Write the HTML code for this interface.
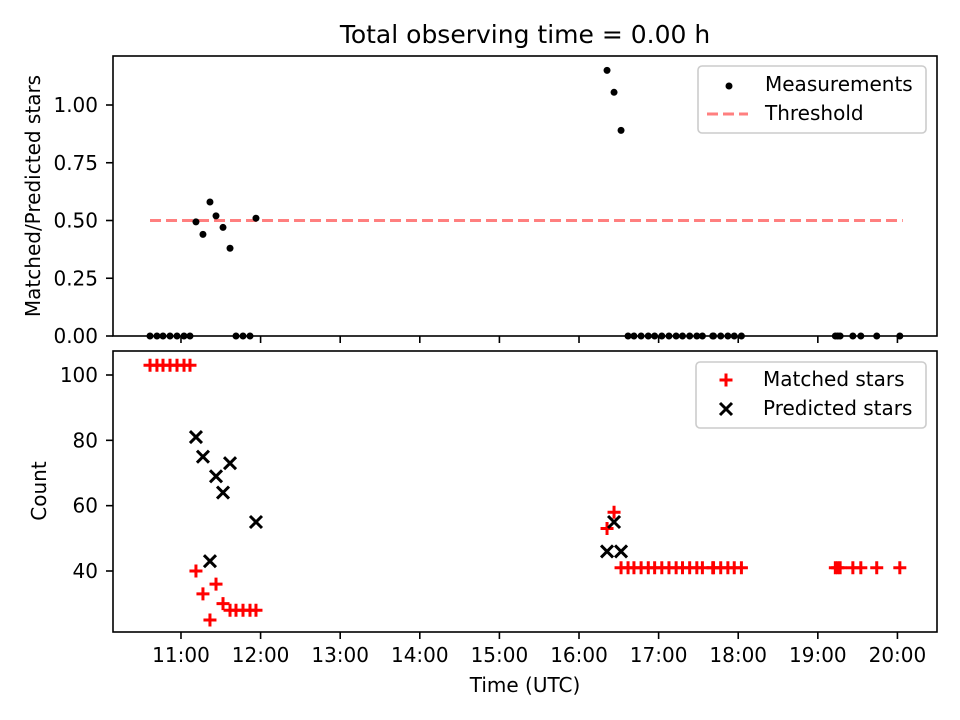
<!DOCTYPE html>
<html><head><meta charset="utf-8"><style>
body{margin:0;background:#fff;}
svg{display:block;font-family:"DejaVu Sans","Liberation Sans",sans-serif;}
</style></head><body>
<svg id="c" width="960" height="720" viewBox="0 0 960 720"></svg>
<script>
const times=[10.611,10.698,10.774,10.862,10.950,11.038,11.113,11.188,11.276,11.364,11.440,11.528,11.616,11.691,11.779,11.867,11.942,16.352,16.440,16.528,16.616,16.69,16.78,16.87,16.95,17.04,17.13,17.22,17.30,17.39,17.48,17.55,17.68,17.69,17.78,17.87,17.95,18.04,19.22,19.25,19.28,19.44,19.54,19.74,20.03];
const matched=[103,103,103,103,103,103,103,40,33,25,36,30,28,28,28,28,28,53,58,41,41,41,41,41,41,41,41,41,41,41,41,41,41,41,41,41,41,41,41,41,41,41,41,41,41];
const predicted=[null,null,null,null,null,null,null,81,75,43,69,64,73,null,null,null,55,46,55,46,null,null,null,null,null,null,null,null,null,null,null,null,null,null,null,null,null,null,null,null,null,null,null,null,null];
const ratio=[0,0,0,0,0,0,0,0.494,0.44,0.58,0.52,0.47,0.38,0,0,0,0.51,1.15,1.055,0.89,0,0,0,0,0,0,0,0,0,0,0,0,0,0,0,0,0,0,0,0,0,0,0,0,0];
const threshold=0.5;
const xTicks=[11,12,13,14,15,16,17,18,19,20];
const topTicks=[0,0.25,0.5,0.75,1.0];
const botTicks=[40,60,80,100];

const NS="http://www.w3.org/2000/svg";
const svg=document.getElementById('c');
function el(t,a,p){const e=document.createElementNS(NS,t);for(const k in a)e.setAttribute(k,a[k]);(p||svg).appendChild(e);return e;}
const X0=113,X1=937;
const xs=h=>X0+(h-10.146)/(20.497-10.146)*(X1-X0);
const yTop=v=>336-v*231;
const yBot=v=>571-(v-40)*3.2667;
const FS='20px';

let t=el('text',{x:525,y:43,'text-anchor':'middle','font-size':'25px'});t.textContent='Total observing time = 0.00 h';



function axes(y0,y1,name){
  const r=el('rect',{x:X0,y:y0,width:X1-X0,height:y1-y0,fill:'none',stroke:'#000','stroke-width':1.6});
  
  
  xTicks.forEach(h=>{el('line',{x1:xs(h),x2:xs(h),y1:y1,y2:y1+7,stroke:'#000','stroke-width':1.6});});
}
axes(56,336,'top-axes');
axes(351,632,'bottom-axes');
xTicks.forEach(h=>{const s=el('text',{x:xs(h),y:662,'text-anchor':'middle','font-size':FS});s.textContent=h+':00';

});
topTicks.forEach(v=>{el('line',{x1:X0-7,x2:X0,y1:yTop(v),y2:yTop(v),stroke:'#000','stroke-width':1.6});
const s=el('text',{x:X0-15,y:yTop(v)+7,'text-anchor':'end','font-size':FS});s.textContent=v.toFixed(2);

});
botTicks.forEach(v=>{el('line',{x1:X0-7,x2:X0,y1:yBot(v),y2:yBot(v),stroke:'#000','stroke-width':1.6});
const s=el('text',{x:X0-15,y:yBot(v)+7,'text-anchor':'end','font-size':FS});s.textContent=v;

});
let l=el('text',{x:525,y:692,'text-anchor':'middle','font-size':FS});l.textContent='Time (UTC)';


l=el('text',{transform:'translate(40,196) rotate(-90)','text-anchor':'middle','font-size':FS});l.textContent='Matched/Predicted stars';


l=el('text',{transform:'translate(46,491) rotate(-90)','text-anchor':'middle','font-size':FS});l.textContent='Count';



const th=el('line',{x1:xs(times[0]),x2:xs(times[times.length-1])+3,y1:yTop(threshold),y2:yTop(threshold),stroke:'#ff0000','stroke-opacity':0.5,'stroke-width':3,'stroke-dasharray':'11,5'});



ratio.forEach((v,i)=>{const c=el('circle',{cx:xs(times[i]),cy:yTop(v),r:3.5,fill:'#000'});

});

function plus(x,y,col){return el('path',{d:`M${x-6.5},${y}H${x+6.5}M${x},${y-6.5}V${y+6.5}`,stroke:col,'stroke-width':3});}
function cross(x,y){return el('path',{d:`M${x-6},${y-6}L${x+6},${y+6}M${x-6},${y+6}L${x+6},${y-6}`,stroke:'#000','stroke-width':3});}
matched.forEach((v,i)=>{const p=plus(xs(times[i]),yBot(v),'#ff0000');

});
predicted.forEach((v,i)=>{if(v===null)return;const p=cross(xs(times[i]),yBot(v));

});

let lg=el('rect',{x:698,y:66,width:228,height:67,rx:4,fill:'#fff','fill-opacity':0.8,stroke:'#ccc','stroke-width':1.6});


el('circle',{cx:729,cy:86,r:3.5,fill:'#000'});
let s=el('text',{x:765,y:91,'font-size':FS});s.textContent='Measurements';
el('line',{x1:707,x2:748,y1:114,y2:114,stroke:'#ff0000','stroke-opacity':0.5,'stroke-width':3,'stroke-dasharray':'11,5'});
s=el('text',{x:765,y:120,'font-size':FS});s.textContent='Threshold';
lg=el('rect',{x:696,y:362,width:230,height:66,rx:4,fill:'#fff','fill-opacity':0.8,stroke:'#ccc','stroke-width':1.6});


plus(726,380,'#ff0000');
s=el('text',{x:763,y:386,'font-size':FS});s.textContent='Matched stars';
cross(726,409);
s=el('text',{x:763,y:415,'font-size':FS});s.textContent='Predicted stars';
</script>
</body></html>
